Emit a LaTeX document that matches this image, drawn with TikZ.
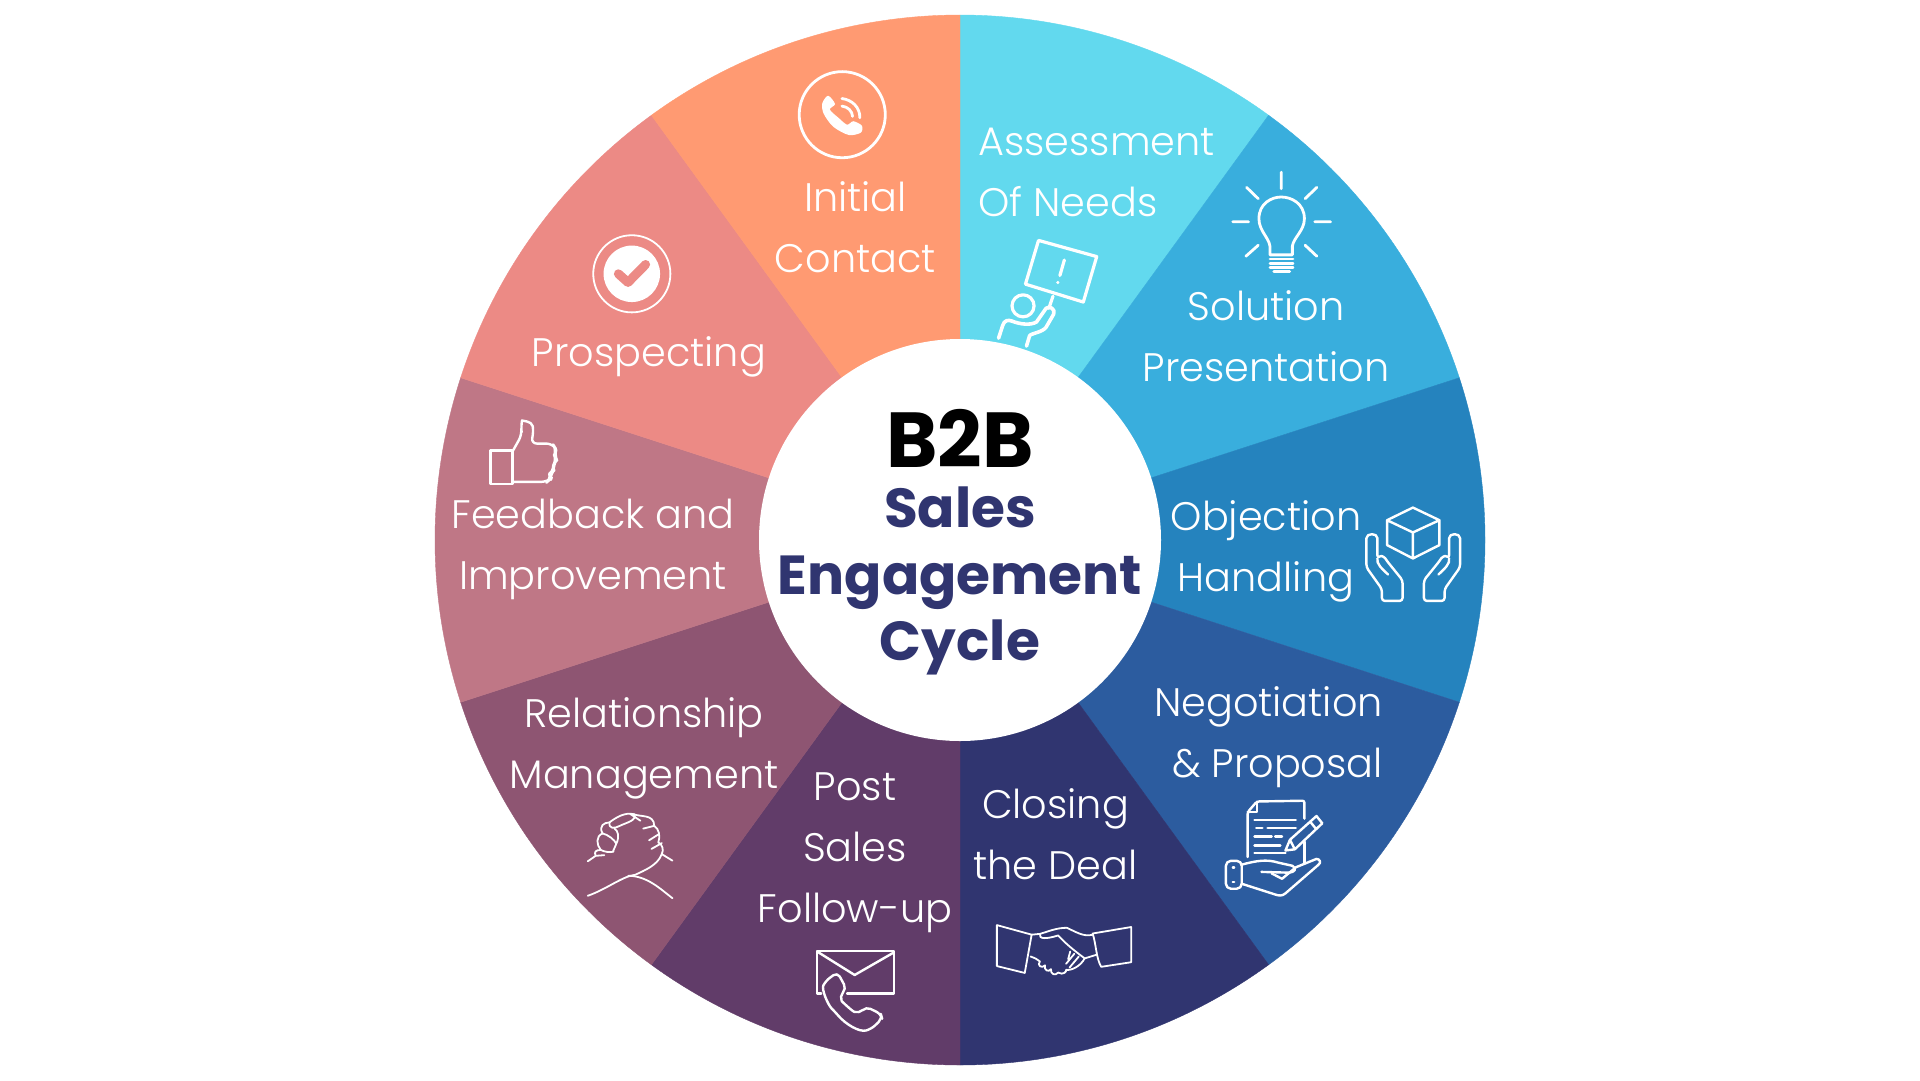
\documentclass[tikz,border=0pt]{standalone}
\usepackage{fontspec}
\setmainfont{Poppins}
\newfontfamily\lightf{Poppins Light}
\newfontfamily\boldf{Poppins Bold}
\definecolor{cA}{HTML}{62D9EE}
\definecolor{cB}{HTML}{39AEDD}
\definecolor{cC}{HTML}{2583BE}
\definecolor{cD}{HTML}{2C5C9F}
\definecolor{cE}{HTML}{303570}
\definecolor{cF}{HTML}{613C69}
\definecolor{cG}{HTML}{8E5572}
\definecolor{cH}{HTML}{BF7786}
\definecolor{cI}{HTML}{EC8A85}
\definecolor{cJ}{HTML}{FF9A72}
\tikzset{
 lab/.style={text=white,font=\lightf\fontsize{39.8}{61}\selectfont,inner sep=0pt,align=center,anchor=base},
 labl/.style={lab,align=left,anchor=base west},
 labr/.style={lab,align=right,anchor=base east},
 ttl/.style={text=cE,font=\boldf\fontsize{55}{60}\selectfont,inner sep=0pt,anchor=base},
 ico/.style={draw=white,line width=2.8pt,line join=round,line cap=round,fill=none},
 icothin/.style={draw=white,line width=1.8pt,line join=round,line cap=round,fill=none},
}
\begin{document}
\begin{tikzpicture}[x=1pt,y=-1pt]
\useasboundingbox (0,0) rectangle (1920,1080);
\fill[white] (0,0) rectangle (1920,1080);
\foreach \a/\c in {90/cA,54/cB,18/cC,-18/cD,-54/cE,-90/cF,-126/cG,-162/cH,-198/cI,-234/cJ}{
  \filldraw[fill=\c,draw=\c,line width=.4pt] (960,540) -- ({960+525*cos(\a)},{540-525*sin(\a)})
     arc[start angle={-\a},end angle={-\a+36},radius=525] -- cycle;
}
\node[circle,fill=white,minimum size=402pt,inner sep=0pt] (hub) at (960,540) {};
% centre title
\node[ttl,text=black,font=\boldf\fontsize{78}{80}\selectfont] (t1) at (960,467) {B2B};
\node[ttl] (t2) at (960,527) {Sales};
\node[ttl] (t3) at (960,594) {Engagement};
\node[ttl] (t4) at (960,660) {Cycle};
% labels (y = baseline of last line)
\node[lab] (l1) at (855.5,272) {Initial\\Contact};
\node[lab] (l2) at (649,366) {Prospecting};
\node[lab] (l3) at (593,589) {Feedback and\\Improvement};
\node[lab] (l4) at (644,788.5) {Relationship\\Management};
\node[lab] (l5) at (855,922.5) {Post\\Sales\\Follow-up};
\node[lab] (l6) at (1055.5,879.7) {Closing\\the Deal};
\node[labr] (l7) at (1383,777.7) {Negotiation\\\& Proposal};
\node[lab] (l8) at (1266,591.7) {Objection\\Handling};
\node[lab] (l9) at (1266,381.8) {Solution\\Presentation};
\node[labl] (l10) at (978,216.2) {Assessment\\Of Needs};
% icons from crop 3 (top-left)
\begin{scope}[shift={(420,0)},x=.3444pt,y=-.3444pt]
 % phone
 \draw[ico] (1226,333) circle[radius=125];
 \fill[white] plot[smooth cycle,tension=.5] coordinates {(1185,278) (1168,300) (1172,330) (1200,368) (1245,392) (1280,385) (1283,365) (1258,352) (1240,362) (1215,342) (1190,318) (1205,302)};
 \draw[ico] (1225,286) .. controls (1255,290) and (1278,312) .. (1277,342);
 \draw[ico] (1225,308) .. controls (1242,310) and (1255,322) .. (1256,338);
 % check
 \draw[icothin] (615,795) circle[radius=112];
 \fill[white] (615,795) circle[radius=82];
 \draw[cI,line width=9pt,line cap=round,line join=round] (576,795) -- (604,820) -- (655,768);
 % thumb
 \draw[ico,line width=2.4pt] (205,1308) rectangle (268,1405);
 \draw[ico,line width=2.4pt,rounded corners=6pt] (268,1312) -- (296,1262) -- (293,1238) .. controls (296,1222) and (325,1222) .. (330,1255) -- (322,1288) -- (385,1288) -- (396,1305) -- (390,1322) -- (397,1335) -- (387,1350) -- (388,1367) -- (377,1376) -- (380,1390) -- (370,1399) -- (268,1399);
\end{scope}
% crop 1 (top-right)
\begin{scope}[shift={(960,0)},x=.3444pt,y=-.3444pt]
 % bulb
 \draw[ico] (900,740) -- (900,715) .. controls (897,690) and (868,670) .. (868,635) .. controls (868,590) and (905,572) .. (933,572) .. controls (961,572) and (1000,590) .. (1000,635) .. controls (1000,670) and (968,690) .. (965,715) -- (965,740) -- cycle;
 \draw[ico] (900,752) -- (967,752) (900,764) -- (967,764) (900,776) -- (967,776) (911,789) -- (957,789);
 \draw[ico] (933,500) -- (933,548) (1036,544) -- (1002,577) (1076,644) -- (1030,644) (1036,744) -- (1002,712) (830,744) -- (866,712) (792,644) -- (838,644) (832,544) -- (866,577);
 % sign
 \draw[ico,line width=3.2pt] (228,698) -- (397,745) -- (358,877) -- (190,825) -- cycle;
 \draw[ico,line width=3.2pt] (303,755) -- (290,800) (284,820) -- (284,820.5);
 \draw[ico,line width=3.2pt] (183,888) circle[radius=32];
 \draw[ico,line width=3.2pt] (270,860) -- (258,895);
 \draw[ico,line width=3.6pt] (112,982) -- (124,945) .. controls (128,930) and (140,928) .. (150,932) .. controls (175,942) and (205,945) .. (222,935) -- (250,895) .. controls (258,888) and (278,895) .. (272,912) -- (250,950) .. controls (240,965) and (205,968) .. (202,975) -- (193,1005);
\end{scope}
% crop 2 (bottom-right)
\begin{scope}[shift={(960,480)},x=.3444pt,y=-.3827pt]
 % box
 \draw[ico,line width=2.4pt] (1315,72) -- (1392,105) -- (1392,170) -- (1315,205) -- (1240,170) -- (1240,105) -- cycle (1240,105) -- (1315,137) -- (1392,105) (1315,137) -- (1315,205);
 % hands
 \foreach \s/\o in {1/0,-1/2632}{
 \draw[ico,line width=2.4pt,rounded corners=3pt] ({\o+\s*1225},316) -- ({\o+\s*1225},285) -- ({\o+\s*1180},228) -- ({\o+\s*1180},160) .. controls ({\o+\s*1180},138) and ({\o+\s*1212},138) .. ({\o+\s*1212},160) -- ({\o+\s*1212},205) .. controls ({\o+\s*1225},195) and ({\o+\s*1235},205) .. ({\o+\s*1240},212) -- ({\o+\s*1285},262) -- ({\o+\s*1285},316) -- cycle;
 \draw[ico,line width=2.4pt] ({\o+\s*1212},205) .. controls ({\o+\s*1208},218) and ({\o+\s*1225},232) .. ({\o+\s*1243},247);
 }
 % document
 \draw[ico,line width=2.4pt,rounded corners=2pt] (835,985) -- (835,868) -- (862,840) -- (1000,838) -- (1000,885);
 \draw[ico,line width=2.4pt] (1000,945) -- (1000,1000) (862,840) -- (862,868) -- (835,868);
 \draw[ico,line width=2.4pt] (855,888) -- (975,888) (860,910) -- (878,910) (893,910) -- (975,910) (855,932) -- (905,932) (915,932) -- (935,932) (855,955) -- (930,955) (855,975) -- (945,975);
 % pencil
 \draw[ico,line width=2.4pt] (945,968) -- (958,940) -- (1035,878) -- (1052,897) -- (972,965) -- cycle (1017,893) -- (1034,912) (958,940) -- (972,965);
 % hand holding
 \draw[ico,line width=2.4pt,rounded corners=5pt] (772,995) -- (818,995) -- (818,1068) -- (772,1068) -- cycle;
 \draw[ico,line width=2.4pt] (792,1012) -- (796,1012) (792,1050) -- (796,1050);
 \draw[ico,line width=2.4pt] (818,1005) .. controls (860,995) and (890,990) .. (925,1000) -- (965,1008) .. controls (980,1015) and (972,1025) .. (955,1026) -- (875,1024);
 \draw[ico,line width=2.4pt] (905,1028) -- (935,1042) -- (975,1012) -- (1035,990) .. controls (1045,990) and (1050,1000) .. (1040,1006) -- (945,1080) .. controls (935,1088) and (925,1086) .. (915,1083) -- (818,1055);
 % handshake
 \draw[icothin] (107,1163) -- (208,1188) -- (188,1288) -- (107,1270) -- cycle;
 \draw[icothin] (497,1168) -- (385,1185) .. controls (395,1210) and (395,1250) .. (410,1272) -- (497,1260) -- cycle;
 \draw[icothin] (208,1188) -- (232,1186) .. controls (255,1180) and (280,1170) .. (310,1170) .. controls (335,1180) and (360,1195) .. (385,1188);
 \draw[icothin] (232,1186) .. controls (228,1200) and (250,1200) .. (285,1190) .. controls (310,1215) and (340,1235) .. (362,1250) -- (398,1240);
 \draw[icothin] (205,1245) .. controls (215,1248) and (225,1252) .. (232,1258) .. controls (222,1268) and (238,1278) .. (247,1268) .. controls (242,1280) and (258,1288) .. (264,1278) .. controls (262,1292) and (278,1296) .. (285,1287) .. controls (300,1295) and (310,1284) .. (308,1280) .. controls (325,1282) and (350,1270) .. (362,1250);
 \draw[icothin] (345,1245) -- (318,1274) (332,1238) -- (308,1264) (320,1232) -- (314,1252);
\end{scope}
% crop 4 (bottom-left)
\begin{scope}[shift={(420,540)},x=.3444pt,y=-.3444pt]
 % envelope + phone
 \draw[ico,line width=2.4pt] (1165,1317) -- (1153,1317) -- (1153,1193) -- (1377,1193) -- (1377,1317) -- (1240,1317);
 \draw[ico,line width=2.4pt] (1158,1198) -- (1262,1263) -- (1375,1198);
 \draw[ico,line width=2.4pt,rounded corners=5pt] (1212,1255) -- (1178,1280) .. controls (1165,1305) and (1185,1350) .. (1205,1370) .. controls (1235,1405) and (1275,1430) .. (1310,1420) -- (1342,1390) -- (1338,1376) -- (1295,1355) -- (1275,1375) .. controls (1255,1368) and (1225,1340) .. (1218,1325) -- (1238,1303) -- cycle;
 % clasped hands
 \draw[icothin] (487,933) -- (510,917) .. controls (505,905) and (510,900) .. (525,900) .. controls (512,885) and (510,860) .. (530,852) .. controls (518,830) and (535,820) .. (550,820) .. controls (570,805) and (595,790) .. (620,796) .. controls (640,805) and (680,795) .. (680,830) .. controls (695,840) and (698,860) .. (692,878) .. controls (705,885) and (708,900) .. (702,912) -- (733,931);
 \draw[icothin] (702,912) .. controls (690,945) and (650,960) .. (625,972) .. controls (590,975) and (540,1015) .. (487,1033);
 \draw[icothin] (605,975) .. controls (660,975) and (700,1015) .. (733,1040);
 \draw[icothin] (550,820) .. controls (548,840) and (565,838) .. (580,830) .. controls (600,820) and (630,815) .. (622,796);
 \draw[icothin] (530,852) .. controls (545,855) and (565,870) .. (570,882) (525,900) .. controls (535,905) and (550,908) .. (562,905) (510,917) -- (535,915) (570,882) .. controls (580,860) and (575,845) .. (565,838) (570,882) -- (560,905);
 \draw[icothin] (648,838) -- (680,830) (665,872) -- (692,855) (672,897) -- (702,880) (610,795) -- (640,815);
\end{scope}
\end{tikzpicture}
\end{document}
